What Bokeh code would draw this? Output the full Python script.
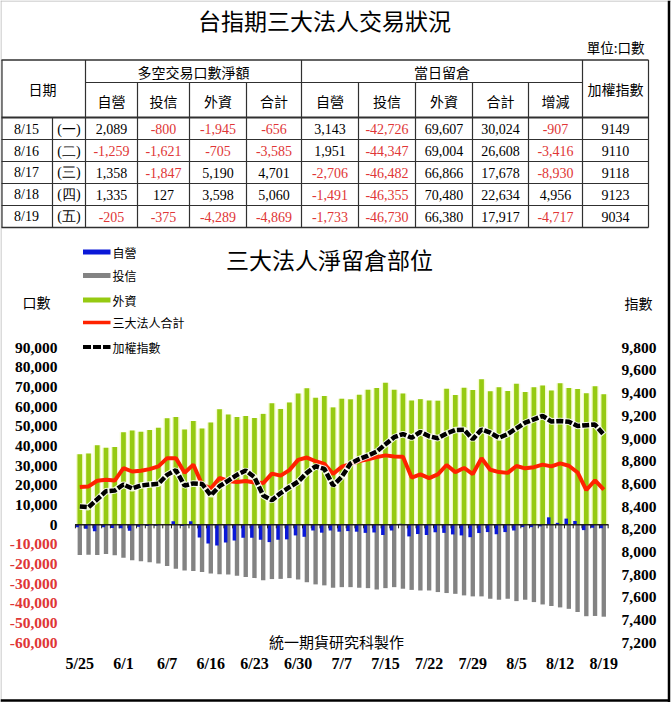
from bokeh.plotting import figure
from bokeh.models import Range1d, ColumnDataSource
from bokeh.core.properties import value
from bokeh.transform import dodge
from bokeh.embed import file_html
from bokeh.resources import INLINE

# ---------------- table data (top) ----------------
tbl_dates = ["8/15", "8/16", "8/17", "8/18", "8/19"]
tbl_weekdays = ["(一)", "(二)", "(三)", "(四)", "(五)"]
net_dealer = [2089, -1259, 1358, 1335, -205]
net_trust = [-800, -1621, -1847, 127, -375]
net_foreign = [-1945, -705, 5190, 3598, -4289]
net_total = [-656, -3585, 4701, 5060, -4869]
oi_dealer = [3143, 1951, -2706, -1491, -1733]
oi_trust = [-42726, -44347, -46482, -46355, -46730]
oi_foreign = [69607, 69004, 66866, 70480, 66380]
oi_total = [30024, 26608, 17678, 22634, 17917]
oi_change = [-907, -3416, -8930, 4956, -4717]
taiex_close = [9149, 9110, 9118, 9123, 9034]

# ---------------- chart data ----------------
dates = ["5/25", "5/26", "5/27", "5/30", "5/31", "6/1", "6/2", "6/3", "6/4", "6/6",
         "6/7", "6/8", "6/13", "6/14", "6/15", "6/16", "6/17", "6/20", "6/21", "6/22",
         "6/23", "6/24", "6/27", "6/28", "6/29", "6/30", "7/1", "7/4", "7/5", "7/6",
         "7/7", "7/11", "7/12", "7/13", "7/14", "7/15", "7/18", "7/19", "7/20", "7/21",
         "7/22", "7/25", "7/26", "7/27", "7/28", "7/29", "8/1", "8/2", "8/3", "8/4",
         "8/5", "8/8", "8/9", "8/10", "8/11", "8/12", "8/15", "8/16", "8/17", "8/18", "8/19"]
dealer = [-1200, -2000, -3300, -1300, -1600, -1800, -3000, -1000, -600, -500,
          300, 1800, -600, 1800, -6500, -9500, -10500, -9000, -8000, -6600,
          -6600, -7600, -8800, -7600, -7400, -5400, -6100, -2900, -4000, -2900,
          -3500, -3200, -3500, -4100, -3900, -5200, -2900, 500, -5900, -4700,
          -5200, -3800, -4100, -4900, -5400, -6300, -4200, -3700, -4800, -3700,
          -2900, -1200, -1200, -800, 3800, 1000, 3143, 1951, -2706, -1491, -1733]
trust = [-15400, -15200, -15300, -14900, -15500, -16800, -18000, -18500, -19100, -19700,
         -21000, -22300, -23200, -23500, -24000, -24800, -25200, -25300, -25900, -26600,
         -27100, -28200, -27600, -27500, -27100, -27800, -29200, -30300, -30800, -32000,
         -31700, -31700, -32000, -32200, -32900, -32200, -31700, -32500, -33100, -33400,
         -33400, -34200, -34700, -35100, -35900, -36400, -36400, -37600, -38100, -37600,
         -38800, -38100, -39300, -40500, -41300, -42000, -42726, -44347, -46482, -46355, -46730]
foreign = [35900, 36300, 40500, 39200, 39600, 47000, 48000, 47300, 48200, 49400,
           54200, 54800, 48500, 52800, 49000, 52000, 58800, 56100, 54800, 55300,
           54300, 56400, 61800, 58900, 62200, 66800, 69400, 64600, 65500, 59700,
           64100, 63800, 66100, 68700, 69500, 72200, 68700, 66800, 63200, 63900,
           63200, 63100, 69200, 66000, 69700, 68600, 74000, 67900, 70000, 68000,
           71700, 67500, 70000, 70800, 68300, 72000, 69607, 69004, 66866, 70480, 66380]
total = [19200, 19500, 22400, 22900, 22500, 28800, 27100, 27500, 28300, 29700,
         33900, 33900, 26500, 30600, 20500, 18500, 23800, 22300, 21800, 22300,
         21500, 21200, 26000, 25000, 27800, 33000, 34200, 32300, 31000, 25900,
         29500, 30800, 32400, 33300, 34400, 35300, 34700, 34600, 24000, 25600,
         23700, 25600, 30400, 26800, 28900, 25800, 33800, 28000, 26800, 26400,
         29900, 28700, 29300, 30600, 29700, 31200, 30024, 26608, 17678, 22634, 17917]
taiex = [8401, 8395, 8465, 8536, 8542, 8595, 8560, 8586, 8595, 8601,
         8680, 8722, 8585, 8605, 8600, 8500, 8580, 8630, 8680, 8718,
         8660, 8498, 8456, 8520, 8571, 8620, 8698, 8756, 8733, 8586,
         8663, 8780, 8820, 8850, 8885, 8950, 9012, 9040, 9007, 9058,
         9020, 9003, 9045, 9075, 9078, 8994, 9080, 9052, 9007, 9040,
         9090, 9140, 9170, 9200, 9150, 9155, 9149, 9110, 9118, 9123, 9034]
left_ticks = [90000, 80000, 70000, 60000, 50000, 40000, 30000, 20000, 10000, 0,
              -10000, -20000, -30000, -40000, -50000, -60000]
right_ticks = [9800, 9600, 9400, 9200, 9000, 8800, 8600, 8400, 8200, 8000,
               7800, 7600, 7400, 7200]

# ---------------- figure ----------------
W, H = 671, 702
RED_TXT = "#E03636"
CJK = value("Noto Sans CJK TC")
SERIF = value("Liberation Serif")

p = figure(width=W, height=H, x_range=Range1d(0, W), y_range=Range1d(H, 0),
           x_axis_type=None, y_axis_type=None, toolbar_location=None,
           output_backend="svg", min_border=0, outline_line_color=None,
           background_fill_color="white", border_fill_color="white")

# chart scales: bar 0 center at px 79.3, step 8.733 px
BAR0, STEP = 79.3, 8.733
p.extra_x_ranges = {"ix": Range1d(-BAR0 / STEP, (W - BAR0) / STEP)}


def vrange(v_top, px_top, v_bot, px_bot):
    k = (v_top - v_bot) / (px_bot - px_top)
    return Range1d(v_bot - (H - px_bot) * k, v_top + px_top * k)


p.extra_y_ranges = {"lv": vrange(90000, 347.3, -60000, 642.3),
                    "rv": vrange(9800, 347.3, 7200, 642.3)}

# ---------------- outer frame ----------------
p.segment(x0=[0.5, 0], y0=[0, 0.5], x1=[0.5, W], y1=[H, 0.5], line_color="#B8B8B8", line_width=1)
p.segment(x0=[668.5, 0], y0=[0, 700], x1=[668.5, 669.5], y1=[H, 700], line_color="black", line_width=2.5)

# ---------------- top title + table ----------------
p.text(x=[324], y=[19], text=["台指期三大法人交易狀況"], text_font=CJK, text_font_size="23px",
       text_align="center", text_baseline="middle", text_color="black")
p.text(x=[644], y=[46], text=["單位:口數"], text_font=CJK, text_font_size="13.5px",
       text_align="right", text_baseline="middle", text_color="black")

LC = "#303030"
p.segment(x0=[1, 85, 1, 1, 1, 1, 1, 1], x1=[648, 582, 648, 648, 648, 648, 648, 648],
          y0=[59.5, 82, 117, 139, 161, 183, 205, 227], y1=[59.5, 82, 117, 139, 161, 183, 205, 227],
          line_color=LC, line_width=[1.5, 1, 2, 1.2, 1.2, 1.2, 1.2, 1.5])
vx = [1.5, 52, 85, 137, 189, 246, 301, 358, 415, 472, 528, 582, 648]
vy0 = [59.5, 117, 59.5, 82, 82, 82, 59.5, 82, 82, 82, 82, 59.5, 59.5]
p.segment(x0=vx, x1=vx, y0=vy0, y1=[227] * len(vx), line_color=LC, line_width=1.2)

p.text(x=[42, 193, 441.5, 615], y=[88, 71, 71, 88], text=["日期", "多空交易口數淨額", "當日留倉", "加權指數"],
       text_font=CJK, text_font_size="14px", text_align="center", text_baseline="middle", text_color="black")
cols_x = [111, 163, 217.5, 273.5, 329.5, 386.5, 443.5, 500, 555, 615]
sub_heads = ["自營", "投信", "外資", "合計", "自營", "投信", "外資", "合計", "增減"]
p.text(x=cols_x[:9], y=[100] * 9, text=sub_heads, text_font=CJK, text_font_size="14px",
       text_align="center", text_baseline="middle", text_color="black")

row_y = [128.5, 150.5, 172, 194, 216]
p.text(x=[26] * 5, y=row_y, text=tbl_dates, text_font=SERIF, text_font_size="14px",
       text_align="center", text_baseline="middle", text_color="black")
p.text(x=[68.5] * 5, y=row_y, text=tbl_weekdays, text_font=SERIF, text_font_size="14px",
       text_align="center", text_baseline="middle", text_color="black")
series = [net_dealer, net_trust, net_foreign, net_total, oi_dealer, oi_trust, oi_foreign, oi_total, oi_change]
xs, ys, ts, cs = [], [], [], []
for r in range(len(tbl_dates)):
    for c, s in enumerate(series):
        v = s[r]
        xs.append(cols_x[c]); ys.append(row_y[r]); ts.append(f"{v:,}")
        cs.append(RED_TXT if v < 0 else "black")
    xs.append(cols_x[9]); ys.append(row_y[r]); ts.append(str(taiex_close[r])); cs.append("black")
p.text(x=xs, y=ys, text=ts, text_color=cs, text_font=SERIF, text_font_size="14px",
       text_align="center", text_baseline="middle")

# ---------------- chart titles / legend ----------------
p.text(x=[329], y=[258], text=["三大法人淨留倉部位"], text_font=CJK, text_font_size="23px",
       text_align="center", text_baseline="middle", text_color="black")
p.text(x=[36], y=[301], text=["口數"], text_font=CJK, text_font_size="14px",
       text_align="center", text_baseline="middle", text_color="black")
p.text(x=[638], y=[302], text=["指數"], text_font=CJK, text_font_size="14px",
       text_align="center", text_baseline="middle", text_color="black")

BLUE, GRAY, GREEN, REDL = "#0A18D8", "#838383", "#96CA12", "#FF2200"
leg_y = [251.5, 275, 299.5, 322, 346.5]
p.quad(left=[82.5] * 3, right=[110] * 3, top=[y - 2.5 for y in leg_y[:3]], bottom=[y + 2.5 for y in leg_y[:3]],
       fill_color=[BLUE, GRAY, GREEN], line_color=None)
p.line(x=[82.5, 110], y=[leg_y[3]] * 2, line_color=REDL, line_width=3.5)
p.line(x=[82.5, 110], y=[leg_y[4]] * 2, line_color="black", line_width=4, line_dash="8 2")
p.text(x=[112] * 5, y=leg_y, text=["自營", "投信", "外資", "三大法人合計", "加權指數"],
       text_font=CJK, text_font_size="12px", text_align="left", text_baseline="middle", text_color="black")

# ---------------- chart marks ----------------
src = ColumnDataSource(dict(x=list(range(len(dates))), date=dates, dealer=dealer, trust=trust,
                            foreign=foreign, total=total, taiex=taiex))
# pale glow behind foreign bars
p.vbar(x="x", width=0.86, top="foreign", bottom=0, source=src, x_range_name="ix", y_range_name="lv",
       fill_color="#F5FBCF", line_color=None)
p.vbar(x="x", width=0.54, top="foreign", bottom=0, source=src, x_range_name="ix", y_range_name="lv",
       fill_color=GREEN, line_color=None)
p.vbar(x="x", width=0.5, top=0, bottom="trust", source=src, x_range_name="ix", y_range_name="lv",
       fill_color=GRAY, line_color=None)
p.vbar(x=dodge("x", -0.3), width=0.4, top="dealer", bottom=0, source=src, x_range_name="ix",
       y_range_name="lv", fill_color=BLUE, line_color=None)

# category axis crossing at 0
n = len(dates)
p.segment(x0=[-0.55], x1=[n - 0.45], y0=[0], y1=[0], x_range_name="ix", y_range_name="lv",
          line_color="#202020", line_width=1.5)
bx = [i - 0.5 for i in range(n + 1)]
p.segment(x0=bx, x1=bx, y0=[0] * len(bx), y1=[-1800] * len(bx), x_range_name="ix", y_range_name="lv",
          line_color="#202020", line_width=1)

p.line(x="x", y="total", source=src, x_range_name="ix", y_range_name="lv", line_color=REDL, line_width=4)
p.line(x="x", y="taiex", source=src, x_range_name="ix", y_range_name="rv", line_color="white",
       line_width=6.5, line_alpha=0.85)
p.line(x="x", y="taiex", source=src, x_range_name="ix", y_range_name="rv", line_color="black",
       line_width=4.5, line_dash="7 2")

# ---------------- tick labels ----------------
p.text(x=[57] * len(left_ticks), y=left_ticks, text=[f"{t:,}" for t in left_ticks],
       text_color=[RED_TXT if t < 0 else "black" for t in left_ticks], y_range_name="lv",
       text_font=SERIF, text_font_style="bold", text_font_size="15.5px",
       text_align="right", text_baseline="middle")
p.text(x=[621] * len(right_ticks), y=right_ticks, text=[f"{t:,}" for t in right_ticks],
       text_color="black", y_range_name="rv",
       text_font=SERIF, text_font_style="bold", text_font_size="15.5px",
       text_align="left", text_baseline="middle")
tick_idx = list(range(0, n, 5))
p.text(x=tick_idx, y=[663] * len(tick_idx), text=[dates[i] for i in tick_idx], x_range_name="ix",
       text_font=SERIF, text_font_style="bold", text_font_size="16px", text_color="black",
       text_align="center", text_baseline="middle")
p.text(x=[336], y=[641], text=["統一期貨研究科製作"], text_font=CJK, text_font_size="15px",
       text_align="center", text_baseline="middle", text_color="black")

open("out.html", "w").write(file_html(p, INLINE))
